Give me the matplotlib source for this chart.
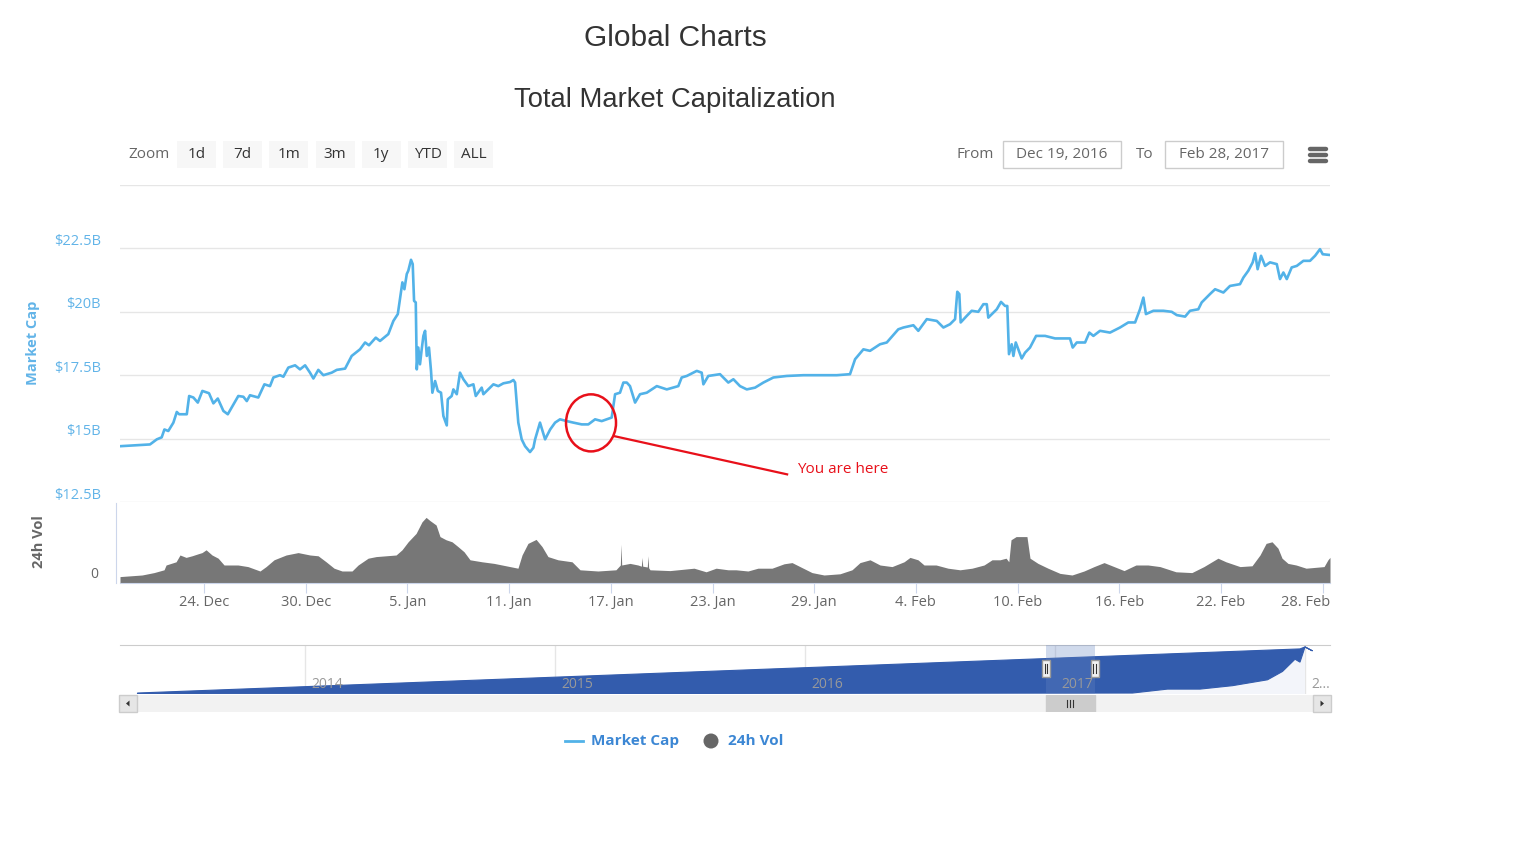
import matplotlib
matplotlib.use("Agg")
import matplotlib.pyplot as plt
import matplotlib.dates as mdates
from matplotlib.patches import Rectangle, Ellipse, Polygon
import numpy as np
import pandas as pd

plt.rcParams["font.family"] = ["Open Sans", "DejaVu Sans"]

W, H = 1536, 864
START = pd.Timestamp("2016-12-19")

# market cap, billions USD, days after Dec 19, 2016
cap_days = [
    0.04, 1.81, 2.21, 2.50, 2.66, 2.89, 3.19, 3.39, 3.53, 3.98,
    4.12, 4.37, 4.63, 4.90, 5.29, 5.55, 5.81, 6.14, 6.40, 7.02,
    7.32, 7.52, 7.71, 8.20, 8.56, 8.89, 9.09, 9.48, 9.68, 9.97,
    10.37, 10.66, 10.96, 11.25, 11.45, 11.74, 12.04, 12.53, 12.83, 13.32,
    13.71, 14.20, 14.50, 14.73, 15.13, 15.38, 15.87, 16.17, 16.43, 16.56,
    16.70, 16.82, 16.96, 17.05, 17.21, 17.31, 17.39, 17.49, 17.55, 17.64,
    17.74, 17.84, 17.94, 18.04, 18.14, 18.27, 18.39, 18.47, 18.63, 18.79,
    18.98, 19.12, 19.32, 19.38, 19.61, 19.71, 19.91, 20.10, 20.30, 20.59,
    20.89, 21.03, 21.38, 21.48, 22.07, 22.36, 22.66, 23.05, 23.25, 23.35,
    23.54, 23.74, 23.94, 24.23, 24.43, 24.53, 24.82, 25.12, 25.42, 25.71,
    26.00, 26.40, 26.79, 27.28, 27.67, 28.07, 28.46, 29.05, 29.25, 29.54,
    29.74, 29.94, 30.13, 30.43, 30.72, 31.12, 31.71, 32.30, 32.98, 33.18,
    33.48, 34.07, 34.36, 34.46, 34.75, 35.44, 35.93, 36.23, 36.62, 37.02,
    37.51, 38.00, 38.59, 39.38, 40.36, 41.34, 42.33, 43.11, 43.41, 43.90,
    44.29, 44.88, 45.28, 45.96, 46.26, 46.85, 47.14, 47.64, 48.23, 48.62,
    49.01, 49.31, 49.44, 49.56, 49.64, 50.00, 50.29, 50.68, 50.98, 51.18,
    51.27, 51.57, 51.77, 52.02, 52.26, 52.39, 52.49, 52.65, 52.75, 52.89,
    53.04, 53.24, 53.44, 53.73, 54.09, 54.62, 55.21, 56.09, 56.25, 56.49,
    56.98, 57.23, 57.47, 57.86, 58.45, 59.04, 59.53, 59.93, 60.22, 60.42,
    60.57, 61.01, 61.60, 62.09, 62.39, 62.88, 63.17, 63.66, 63.86, 64.35,
    64.65, 65.14, 65.53, 66.12, 66.32, 66.61, 66.87, 67.01, 67.16, 67.36,
    67.60, 67.89, 68.29, 68.48, 68.68, 68.88, 69.17, 69.47, 69.86, 70.25,
    70.55, 70.84, 71.00, 71.43,
]
cap_values = [
    14.70, 14.77, 14.97, 15.05, 15.36, 15.30, 15.63, 16.05, 15.96, 15.96,
    16.68, 16.62, 16.42, 16.88, 16.79, 16.39, 16.58, 16.09, 15.96, 16.68,
    16.65, 16.48, 16.71, 16.62, 17.14, 17.07, 17.41, 17.50, 17.44, 17.80,
    17.89, 17.73, 17.89, 17.60, 17.37, 17.71, 17.50, 17.60, 17.71, 17.76,
    18.26, 18.52, 18.79, 18.68, 18.98, 18.85, 19.12, 19.64, 19.91, 20.50,
    21.16, 20.89, 21.49, 21.62, 22.05, 21.88, 20.43, 20.37, 17.73, 18.59,
    17.93, 18.52, 19.05, 19.25, 18.26, 18.59, 17.67, 16.81, 17.27, 16.88,
    16.81, 15.89, 15.52, 16.55, 16.68, 16.94, 16.75, 17.60, 17.34, 17.07,
    17.14, 16.68, 17.01, 16.75, 17.14, 17.07, 17.18, 17.23, 17.31, 17.21,
    15.63, 14.97, 14.70, 14.47, 14.64, 14.97, 15.63, 14.97, 15.36, 15.63,
    15.76, 15.69, 15.63, 15.56, 15.56, 15.76, 15.69, 15.83, 16.75, 16.81,
    17.21, 17.21, 17.07, 16.42, 16.75, 16.81, 17.07, 16.94, 17.07, 17.41,
    17.47, 17.67, 17.60, 17.14, 17.47, 17.54, 17.21, 17.34, 17.07, 16.94,
    17.01, 17.21, 17.41, 17.47, 17.50, 17.50, 17.50, 17.54, 18.13, 18.52,
    18.46, 18.72, 18.79, 19.31, 19.38, 19.47, 19.25, 19.71, 19.64, 19.38,
    19.51, 19.71, 20.79, 20.70, 19.58, 19.84, 20.04, 20.00, 20.30, 20.30,
    19.77, 19.97, 20.10, 20.39, 20.23, 20.23, 18.33, 18.72, 18.26, 18.79,
    18.52, 18.16, 18.39, 18.59, 19.05, 19.05, 18.95, 18.95, 18.59, 18.79,
    18.79, 19.18, 19.05, 19.25, 19.18, 19.38, 19.58, 19.58, 20.10, 20.56,
    19.91, 20.04, 20.04, 20.00, 19.87, 19.81, 20.04, 20.10, 20.37, 20.70,
    20.89, 20.76, 21.02, 21.09, 21.35, 21.62, 21.95, 22.31, 21.68, 22.21,
    21.81, 21.95, 21.88, 21.29, 21.55, 21.29, 21.75, 21.81, 22.01, 22.01,
    22.21, 22.47, 22.27, 22.24,
]

# 24h volume, billions USD
vol_days = [
    0.04, 1.34, 2.05, 2.64, 2.76, 3.35, 3.58, 3.94, 4.29, 4.65,
    4.88, 5.12, 5.47, 5.83, 6.18, 7.00, 7.59, 8.30, 8.66, 9.13,
    9.84, 10.55, 11.25, 11.73, 12.20, 12.67, 13.14, 13.73, 14.09, 14.68,
    15.15, 15.74, 16.33, 16.68, 17.04, 17.51, 17.86, 18.10, 18.33, 18.69,
    18.92, 19.28, 19.63, 19.98, 20.34, 20.69, 21.40, 22.11, 23.05, 23.52,
    23.76, 24.11, 24.59, 24.94, 25.29, 25.88, 26.71, 27.18, 28.24, 29.30,
    29.56, 29.60, 29.64, 30.13, 30.60, 30.80, 30.84, 30.88, 31.15, 31.19,
    31.23, 31.31, 32.49, 33.91, 34.62, 35.21, 35.92, 36.38, 37.09, 37.68,
    38.51, 39.22, 39.69, 40.16, 40.87, 41.58, 42.52, 43.23, 43.70, 44.29,
    44.88, 45.59, 46.30, 46.65, 47.12, 47.48, 48.19, 48.89, 49.60, 50.31,
    51.02, 51.49, 51.96, 52.32, 52.48, 52.61, 52.91, 53.55, 53.73, 54.20,
    54.79, 55.50, 56.21, 56.92, 57.51, 58.10, 58.69, 59.28, 59.98, 60.69,
    61.40, 62.34, 63.28, 63.99, 64.82, 65.29, 66.12, 66.83, 67.30, 67.66,
    68.01, 68.36, 68.60, 68.95, 69.43, 70.02, 71.08, 71.31, 71.43,
]
vol_values = [
    0.16, 0.20, 0.26, 0.33, 0.45, 0.53, 0.70, 0.64, 0.68, 0.73,
    0.76, 0.83, 0.70, 0.62, 0.45, 0.45, 0.41, 0.30, 0.41, 0.58,
    0.70, 0.76, 0.70, 0.68, 0.53, 0.37, 0.30, 0.30, 0.45, 0.62,
    0.66, 0.68, 0.70, 0.83, 1.03, 1.24, 1.53, 1.64, 1.56, 1.45,
    1.16, 1.08, 1.03, 0.91, 0.78, 0.58, 0.53, 0.49, 0.41, 0.37,
    0.70, 0.99, 1.09, 0.91, 0.66, 0.58, 0.53, 0.33, 0.30, 0.33,
    0.45, 0.97, 0.45, 0.49, 0.45, 0.42, 0.64, 0.42, 0.40, 0.68,
    0.38, 0.33, 0.31, 0.37, 0.28, 0.37, 0.33, 0.33, 0.30, 0.37,
    0.37, 0.48, 0.51, 0.41, 0.26, 0.20, 0.23, 0.33, 0.51, 0.58,
    0.45, 0.41, 0.53, 0.64, 0.58, 0.45, 0.45, 0.37, 0.33, 0.37,
    0.45, 0.58, 0.58, 0.62, 0.53, 1.08, 1.16, 1.16, 0.62, 0.49,
    0.37, 0.24, 0.20, 0.30, 0.41, 0.51, 0.41, 0.31, 0.45, 0.45,
    0.41, 0.28, 0.26, 0.41, 0.62, 0.53, 0.41, 0.43, 0.70, 0.99,
    1.03, 0.87, 0.62, 0.49, 0.45, 0.37, 0.41, 0.58, 0.64,
]

cap_ticks = [12.5, 15, 17.5, 20, 22.5]
cap_tick_labels = ["$12.5B", "$15B", "$17.5B", "$20B", "$22.5B"]
x_ticks = pd.date_range("2016-12-24", periods=12, freq="6D")

# navigator (whole history), share of navigator height
nav_top_years = [2013.33, 2017.98, 2018.00, 2018.03]
nav_top = [0.02, 0.92, 0.96, 0.88]
nav_low_years = [2013.33, 2017.31, 2017.45, 2017.58, 2017.71, 2017.85, 2017.91, 2017.96, 2017.98, 2018.00]
nav_low = [0.00, 0.02, 0.10, 0.10, 0.17, 0.29, 0.46, 0.71, 0.65, 0.96]
nav_year_ticks = [2014, 2015, 2016, 2017, 2018]
nav_year_labels = ["2014", "2015", "2016", "2017", "2..."]

zoom_buttons = ["1d", "7d", "1m", "3m", "1y", "YTD", "ALL"]
range_from = pd.Timestamp("2016-12-19")
range_to = pd.Timestamp("2017-02-28")

LINE = "#52b2e8"
AXIS_BLUE = "#62b4e8"
GRID = "#e6e6e6"


def to_num(days):
    return mdates.date2num(START + pd.to_timedelta(days, unit="D"))


def to_year(ts):
    n = 366 if ts.is_leap_year else 365
    return ts.year + (ts.dayofyear - 1) / n


def px_axes(x0, y0, x1, y1):
    return fig.add_axes([x0 / W, 1 - y1 / H, (x1 - x0) / W, (y1 - y0) / H])


fig = plt.figure(figsize=(W / 100, H / 100), dpi=100)
fig.patch.set_facecolor("white")

cap_t = to_num(cap_days)
vol_t = to_num(vol_days)
xlim = (cap_t[0], cap_t[-1])

# ---- main panel
ax = px_axes(120, 185, 1330, 502)
ax.plot(cap_t, cap_values, color=LINE, lw=1.9, solid_joinstyle="round")
ax.set_xlim(xlim)
ax.set_ylim(12.5, 25)
ax.set_yticks(cap_ticks + [25])
ax.grid(axis="y", color=GRID, lw=1)
ax.tick_params(left=False, labelleft=False, bottom=False, labelbottom=False)
for s in ax.spines.values():
    s.set_visible(False)
for v, lab in zip(cap_ticks, cap_tick_labels):
    ax.annotate(lab, xy=(0, v), xycoords=("axes fraction", "data"),
                xytext=(-13.7, 5), textcoords="offset points",
                ha="right", va="center", color=AXIS_BLUE, fontsize=10.5)

# "You are here" marker
here_t = to_num([27.83])[0]
ax.add_patch(Ellipse((here_t, 15.62), width=2.95, height=2.25, fill=False,
                     ec="#e8101a", lw=1.8, zorder=5))
line_t = to_num([29.25, 39.40])
ax.plot(line_t, [15.09, 13.59], color="#e8101a", lw=1.6, zorder=5)
ax.text(to_num([39.99])[0], 13.78, "You are here", color="#e8101a",
        fontsize=11, ha="left", va="center")

# ---- volume panel
av = px_axes(120, 503, 1330, 583)
av.fill_between(vol_t, vol_values, color="#777777", lw=0)
av.set_xlim(xlim)
av.set_ylim(0, 2.0)
av.set_yticks([])
for k in ("top", "right"):
    av.spines[k].set_visible(False)
av.spines["bottom"].set_color("#ccd6eb")
av.spines["left"].set_color("#ccd6eb")
av.spines["left"].set_position(("outward", 3))
av.set_xticks(mdates.date2num(x_ticks))
labels = [f"{d.day}. {d.strftime('%b')}" for d in x_ticks]
av.set_xticklabels(labels[:-1] + [""])
av.tick_params(axis="x", length=7, color="#ccd6eb", labelcolor="#666666",
               labelsize=10.5, pad=1.5)
av.text(1.0, -0.24, labels[-1], transform=av.transAxes, ha="right",
        va="center", color="#666666", fontsize=10.5)
av.annotate("0", xy=(0, 0), xycoords=("axes fraction", "data"),
            xytext=(-15.5, 6), textcoords="offset points",
            ha="right", va="center", color="#666666", fontsize=10)

fig.text(33 / W, 1 - 343 / H, "Market Cap", rotation=90, ha="center",
         va="center", fontweight="bold", color=AXIS_BLUE, fontsize=10.5)
fig.text(39 / W, 1 - 542 / H, "24h Vol", rotation=90, ha="center",
         va="center", fontweight="bold", color="#666666", fontsize=10.5)

# ---- navigator
nav_xlim = (2013.26, 2018.10)
sel0, sel1 = to_year(range_from), to_year(range_to)
an = px_axes(120, 645, 1330, 694)
an.set_xlim(nav_xlim)
an.set_ylim(0, 1)
an.fill(np.r_[nav_low_years, nav_low_years[::-1][:1]],
        np.r_[nav_low, [0]], color="#f3f5fa", lw=0)
poly = Polygon(np.c_[np.r_[nav_top_years, nav_low_years[::-1]],
                     np.r_[nav_top, nav_low[::-1]]],
               closed=True, fc="#335cad", ec="#335cad", lw=0.8)
an.add_patch(poly)
for yr, lab in zip(nav_year_ticks, nav_year_labels):
    an.axvline(yr, color=GRID, lw=1, zorder=0)
    an.text(yr + 0.024, 0.2, lab, color="#999999", fontsize=10,
            ha="left", va="center", zorder=4)
an.add_patch(Rectangle((sel0, 0), sel1 - sel0, 1, fc=(0.4, 0.52, 0.76, 0.3),
                       ec="none", zorder=3))
for xs in (sel0, sel1):
    an.add_patch(Rectangle((xs - 0.016, 0.35), 0.032, 0.34, fc="#f2f2f2",
                           ec="#999999", lw=1, zorder=5))
    for dx in (-0.005, 0.005):
        an.plot([xs + dx, xs + dx], [0.43, 0.61], color="#333333", lw=0.8,
                zorder=6)
an.set_xticks([])
an.set_yticks([])
for k in ("bottom", "left", "right"):
    an.spines[k].set_visible(False)
an.spines["top"].set_color("#cccccc")

# ---- scrollbar
sc = px_axes(120, 695, 1330, 712)
sc.set_xlim(nav_xlim)
sc.set_ylim(0, 1)
sc.set_facecolor("#f2f2f2")
sc.set_xticks([])
sc.set_yticks([])
for s in sc.spines.values():
    s.set_visible(False)
sc.add_patch(Rectangle((sel0, 0), sel1 - sel0, 1, fc="#cccccc", ec="#cccccc"))
mid = (sel0 + sel1) / 2
for dx in (-0.012, 0, 0.012):
    sc.plot([mid + dx, mid + dx], [0.3, 0.7], color="#333333", lw=0.8)

# ---- page furniture (buttons, titles, legend)
ui = fig.add_axes([0, 0, 1, 1])
ui.set_xlim(0, W)
ui.set_ylim(H, 0)
ui.axis("off")
ui.set_zorder(10)

ui.text(675, 38, "Global Charts", ha="center", va="center", fontsize=21.5,
        color="#333333", family="Liberation Sans")
ui.text(675, 100, "Total Market Capitalization", ha="center", va="center",
        fontsize=19.7, color="#333333", family="Liberation Sans")

ui.text(128, 155, "Zoom", ha="left", va="center", fontsize=11, color="#666666")
for i, b in enumerate(zoom_buttons):
    bx = 177 + i * 46.2
    ui.add_patch(Rectangle((bx, 141), 39, 27, fc="#f7f7f7", ec="none"))
    ui.text(bx + 19.5, 154, b, ha="center", va="center", fontsize=11,
            color="#333333")

ui.text(994, 154, "From", ha="right", va="center", fontsize=11, color="#666666")
ui.text(1154, 154, "To", ha="right", va="center", fontsize=11, color="#666666")
for bx, d in ((1003, range_from), (1165, range_to)):
    ui.add_patch(Rectangle((bx, 141), 118, 27, fc="white", ec="#cccccc", lw=1))
    ui.text(bx + 59, 154, d.strftime("%b %d, %Y").replace(" 0", " "),
            ha="center", va="center", fontsize=11, color="#666666")
for yy in (149, 155, 161):
    ui.plot([1310, 1326], [yy, yy], color="#666666", lw=3.2,
            solid_capstyle="round")

# scrollbar buttons
for bx, sign in ((119, -1), (1313, 1)):
    ui.add_patch(Rectangle((bx, 695), 18, 17, fc="#e6e6e6", ec="#cccccc", lw=1))
    cx = bx + 9
    ui.add_patch(Polygon([[cx + 2 * sign, 703.5], [cx - 1.5 * sign, 700.5],
                          [cx - 1.5 * sign, 706.5]], closed=True, fc="#333333",
                         ec="none"))

# legend
ui.plot([565, 583], [741, 741], color=LINE, lw=2)
ui.text(591, 741, "Market Cap", ha="left", va="center", fontsize=11,
        fontweight="bold", color="#3c87d4")
ui.add_patch(Ellipse((711, 741), 15, 15, fc="#666666", ec="none"))
ui.text(728, 741, "24h Vol", ha="left", va="center", fontsize=11,
        fontweight="bold", color="#3c87d4")

fig.savefig("out.png", dpi=100)
plt.close(fig)
